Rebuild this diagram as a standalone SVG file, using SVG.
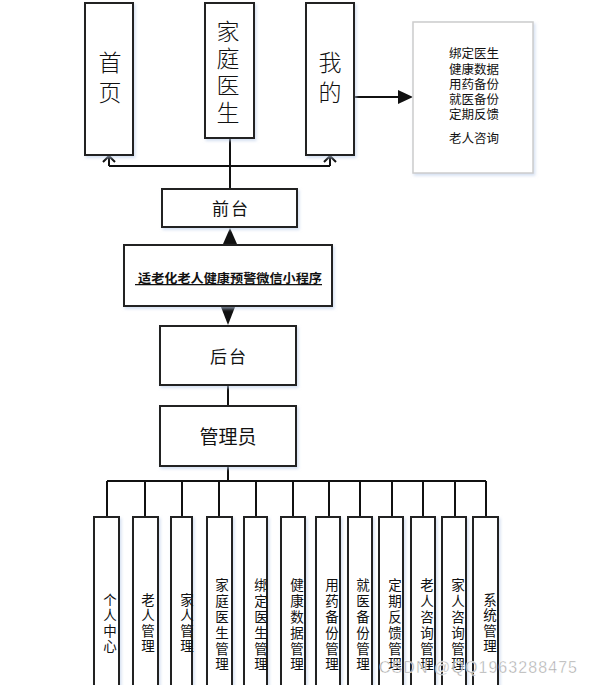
<svg xmlns="http://www.w3.org/2000/svg" width="592" height="685" viewBox="0 0 592 685">
<style>
.box{fill:#fff;stroke:#222;stroke-width:2;filter:url(#sh)}
.lbox{fill:#fff;stroke:#ccc;stroke-width:1.5;filter:url(#sh)}
.ln{fill:none;stroke:#111;stroke-width:2}
.t{font-family:"Noto Sans CJK SC","Noto Sans",sans-serif;fill:#111}
.big{font-size:23px;text-anchor:middle;font-weight:300;writing-mode:vertical-rl}
.mid{font-size:17px;text-anchor:middle}
.sm{font-family:"Liberation Sans","Noto Sans CJK SC",sans-serif;font-size:12.5px;text-anchor:middle;fill:#111}
.v{font-size:13.5px;text-anchor:middle;writing-mode:vertical-rl;letter-spacing:2px}
.v6{letter-spacing:2.3px}
</style>
<defs>
<filter id="sh" x="-20%" y="-20%" width="140%" height="140%">
<feDropShadow dx="1.5" dy="2" stdDeviation="1.5" flood-color="#b8cce8" flood-opacity="0.6"/>
</filter>
</defs>
<rect width="592" height="685" fill="#fff"/>
<g id="connectors">
<path class="ln" d="M230,138 V189 M109,166 H330 M109,166 V156 M330,166 V156"/>
<path class="ln" d="M103,162 L109,156 L115,162 M324,162 L330,156 L336,162"/>
<path class="ln" d="M354,97 H399"/>
<polygon points="398,90 413,97 398,104" fill="#111"/>
<polygon points="230,228 237,244 223,244" fill="#111"/>
<polygon points="228,325 235,307 221,307" fill="#111"/>
<path class="ln" d="M228,385 V406 M228,466 V481 M107,481 H486"/>
<path class="ln" d="M107,481 V517 M145,481 V517 M182,481 V517 M219,481 V517 M256,481 V517 M293,481 V517 M329,481 V517 M360,481 V517 M392,481 V517 M423,481 V517 M455,481 V517 M486,481 V517"/>
</g>
<g id="n-home"><rect class="box" x="85" y="3" width="48" height="152"/>
<text class="t big" x="110" y="81" letter-spacing="7">首页</text></g>
<g id="n-doctor"><rect class="box" x="205" y="3" width="49" height="135"/>
<text class="t big" x="228" y="74" letter-spacing="4">家庭医生</text></g>
<g id="n-mine"><rect class="box" x="306" y="3" width="48" height="152"/>
<text class="t big" x="330" y="81" letter-spacing="7">我的</text></g>
<g id="n-minelist"><rect class="lbox" x="413" y="22" width="120" height="151"/>
<text class="sm" x="474" y="58">绑定医生</text>
<text class="sm" x="474" y="73.5">健康数据</text>
<text class="sm" x="474" y="89">用药备份</text>
<text class="sm" x="474" y="104">就医备份</text>
<text class="sm" x="474" y="119">定期反馈</text>
<text class="sm" x="474" y="143">老人咨询</text></g>
<g id="n-front"><rect class="box" x="162" y="189" width="135" height="38"/>
<text class="t mid" x="231" y="215" letter-spacing="2">前台</text></g>
<g id="n-app"><rect class="box" x="124" y="245" width="208" height="61"/>
<text class="t" x="135" y="283" xml:space="preserve" font-size="12.5" font-weight="bold" text-decoration="underline" textLength="187" lengthAdjust="spacingAndGlyphs"> 适老化老人健康预警微信小程序</text></g>
<g id="n-back"><rect class="box" x="160" y="326" width="136" height="59"/>
<text class="t mid" x="229" y="363" letter-spacing="2">后台</text></g>
<g id="n-admin"><rect class="box" x="160" y="406" width="136" height="60"/>
<text class="t" x="228" y="444" font-size="19" text-anchor="middle">管理员</text></g>
<g id="n-c1"><rect class="box" x="94" y="517" width="25" height="175"/>
<text class="t v" x="110" y="624">个人中心</text></g>
<g id="n-c2"><rect class="box" x="133" y="517" width="25" height="175"/>
<text class="t v" x="148" y="624">老人管理</text></g>
<g id="n-c3"><rect class="box" x="171" y="517" width="21" height="175"/>
<text class="t v" x="187" y="624">家人管理</text></g>
<g id="n-c4"><rect class="box" x="207" y="517" width="25" height="175"/>
<text class="t v v6" x="222" y="626">家庭医生管理</text></g>
<g id="n-c5"><rect class="box" x="244" y="517" width="23" height="175"/>
<text class="t v v6" x="261" y="626">绑定医生管理</text></g>
<g id="n-c6"><rect class="box" x="281" y="517" width="24" height="175"/>
<text class="t v v6" x="297" y="626">健康数据管理</text></g>
<g id="n-c7"><rect class="box" x="316" y="517" width="24" height="175"/>
<text class="t v v6" x="332" y="626">用药备份管理</text></g>
<g id="n-c8"><rect class="box" x="348" y="517" width="24" height="175"/>
<text class="t v v6" x="363" y="626">就医备份管理</text></g>
<g id="n-c9"><rect class="box" x="379" y="517" width="24" height="175"/>
<text class="t v v6" x="395" y="626">定期反馈管理</text></g>
<g id="n-c10"><rect class="box" x="411" y="517" width="24" height="175"/>
<text class="t v v6" x="427" y="626">老人咨询管理</text></g>
<g id="n-c11"><rect class="box" x="442" y="517" width="24" height="175"/>
<text class="t v v6" x="458" y="626">家人咨询管理</text></g>
<g id="n-c12"><rect class="box" x="473" y="517" width="25" height="175"/>
<text class="t v" x="490" y="624">系统管理</text></g>
<text x="379" y="673" font-family="Liberation Sans, sans-serif" font-size="16" fill="#9a9a9a" fill-opacity="0.85" stroke="#fff" stroke-width="0.4" textLength="198">CSDN @QQ1963288475</text>
</svg>
